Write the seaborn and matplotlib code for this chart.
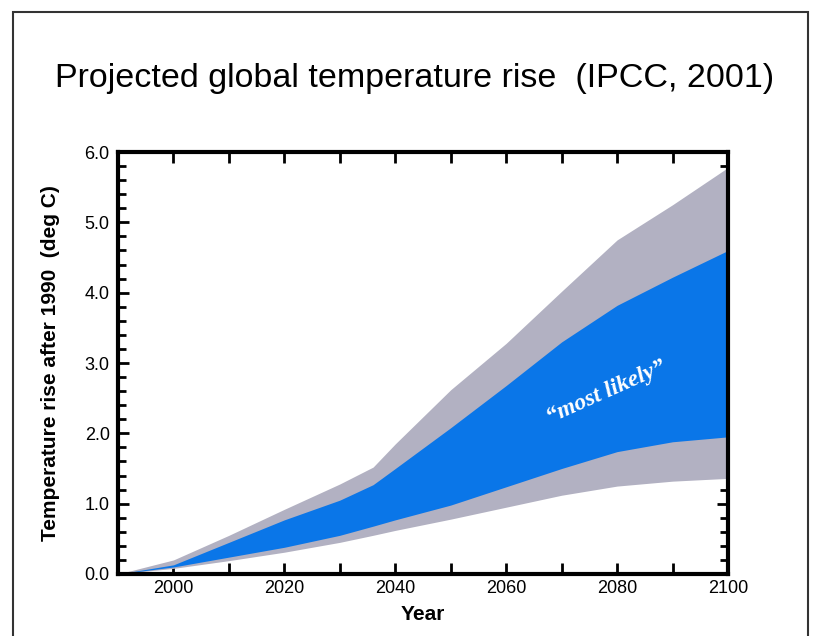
import matplotlib
matplotlib.use("Agg")
import matplotlib.pyplot as plt
from matplotlib.patches import Rectangle
from matplotlib.ticker import MultipleLocator
import seaborn as sns
import pandas as pd

years = [1990, 2000, 2010, 2020, 2030, 2036, 2040, 2050, 2060, 2070, 2080, 2090, 2100]
upper_gray = [0.0, 0.20, 0.55, 0.92, 1.28, 1.52, 1.85, 2.62, 3.28, 4.02, 4.75, 5.25, 5.78]
upper_blue = [0.0, 0.13, 0.45, 0.77, 1.05, 1.27, 1.50, 2.08, 2.68, 3.30, 3.82, 4.22, 4.60]
lower_blue = [0.0, 0.10, 0.24, 0.38, 0.55, 0.68, 0.77, 0.98, 1.24, 1.50, 1.74, 1.88, 1.95]
lower_gray = [0.0, 0.08, 0.19, 0.31, 0.45, 0.55, 0.62, 0.78, 0.95, 1.12, 1.25, 1.32, 1.36]
y_ticks = [0, 1, 2, 3, 4, 5, 6]
x_ticks = [2000, 2020, 2040, 2060, 2080, 2100]

df = pd.DataFrame({"year": years, "ug": upper_gray, "ub": upper_blue,
                   "lb": lower_blue, "lg": lower_gray})

sns.set_style("white")
plt.rcParams["font.family"] = ["Liberation Sans", "DejaVu Sans"]
plt.rcParams["text.color"] = "black"
plt.rcParams["axes.labelcolor"] = "black"
plt.rcParams["xtick.color"] = "black"
plt.rcParams["ytick.color"] = "black"

GRAY = "#b2b1c2"
BLUE = "#0a76e8"

fig = plt.figure(figsize=(8.14, 6.36), dpi=100)
ax = fig.add_axes([118/814, 1-574/636, (728-118)/814, (574-152)/636])

for col in ["ug", "ub", "lb", "lg"]:
    sns.lineplot(data=df, x="year", y=col, ax=ax, linewidth=0, color=GRAY, legend=False)
ax.fill_between(df["year"], df["lg"], df["ug"], color=GRAY, linewidth=0)
ax.fill_between(df["year"], df["lb"], df["ub"], color=BLUE, linewidth=0)

ax.set_xlim(1990, 2100)
ax.set_ylim(0, 6.0)
ax.xaxis.set_minor_locator(MultipleLocator(10))
ax.yaxis.set_minor_locator(MultipleLocator(0.2))
ax.set_yticks(y_ticks)
ax.set_yticklabels([f"{v:.1f}" for v in y_ticks])
ax.set_xticks(x_ticks)
ax.set_xticklabels([str(v) for v in x_ticks])

for s in ax.spines.values():
    s.set_linewidth(3)
    s.set_color("black")
    s.set_visible(True)

ax.tick_params(which="both", direction="in", top=True, right=True, bottom=True, left=True,
               width=2, color="black", labelsize=13, labelcolor="black")
ax.tick_params(axis="y", pad=6)
ax.tick_params(axis="x", pad=4)
ax.tick_params(which="major", length=8)
ax.tick_params(which="minor", length=6)
ax.tick_params(axis="x", which="minor", length=8)

ax.set_xlabel("Year", fontsize=15, fontweight="bold", labelpad=6)
ax.set_ylabel("Temperature rise after 1990  (deg C)", fontsize=15, fontweight="bold", labelpad=18)

ax.text(2078, 2.58, "\u201cmost likely\u201d", rotation=24, color="white", fontsize=17,
        fontweight="bold", fontstyle="italic", family=["Liberation Serif", "DejaVu Serif"],
        ha="center", va="center", rotation_mode="anchor")

fig.text(415/814, 1-78/636, "Projected global temperature rise  (IPCC, 2001)",
         ha="center", va="center", fontsize=24.5, color="black")

fig.patches.append(Rectangle((13/814, -0.05), (808-13)/814, 1.05 - 12/636,
                             transform=fig.transFigure, fill=False, edgecolor="#333333",
                             linewidth=1.5, figure=fig))

fig.savefig("out.png", dpi=100)
